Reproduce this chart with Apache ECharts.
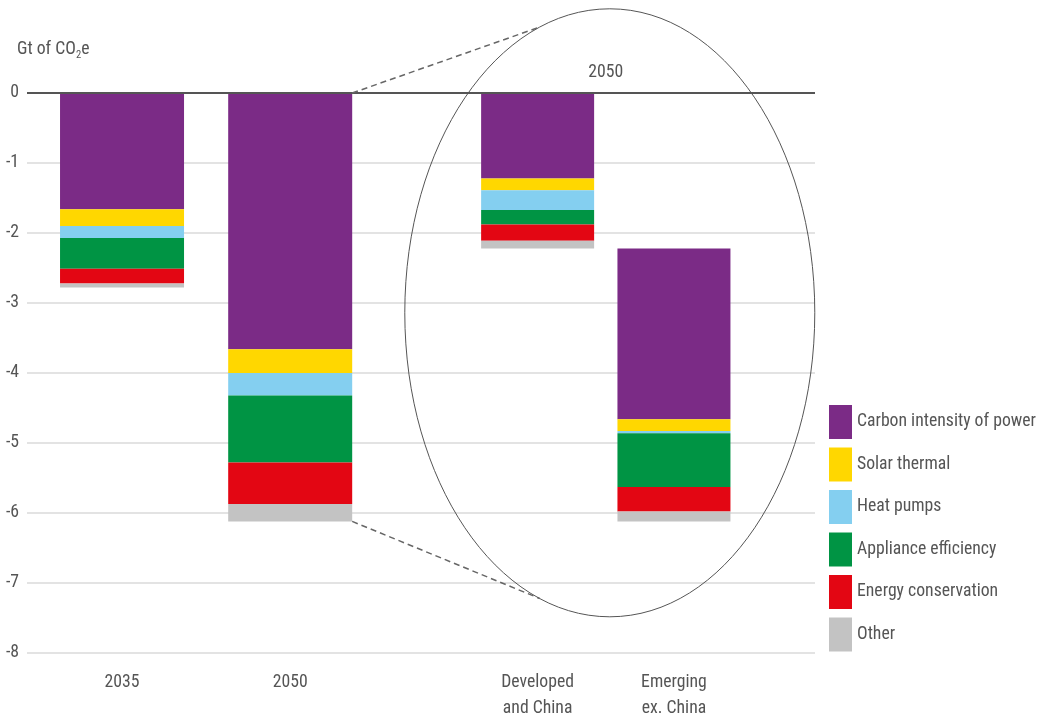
<!DOCTYPE html>
<html>
<head>
<meta charset="utf-8">
<script src="https://cdn.jsdelivr.net/npm/echarts@6/dist/echarts.min.js"></script>
<style>
  html, body { margin: 0; padding: 0; background: #fff; }
  #chart { width: 1040px; height: 717px; }
</style>
</head>
<body>
<div id="chart"></div>
<script>
// Abatement of buildings emissions, Gt of CO2e (negative = reduction)
const categories = ['2035', '2050', 'Developed\nand China', 'Emerging\nex. China'];
const leverNames = ['Carbon intensity of power', 'Solar thermal', 'Heat pumps',
                    'Appliance efficiency', 'Energy conservation', 'Other'];
const leverColors = ['#7b2b86', '#ffd700', '#84cff0', '#009444', '#e30613', '#c3c3c3'];

// 2035 and 2050 totals
const carbonTotal    = [-1.66, -3.66];
const solarTotal     = [-0.24, -0.34];
const heatTotal      = [-0.17, -0.32];
const applianceTotal = [-0.44, -0.96];
const energyTotal    = [-0.21, -0.59];
const otherTotal     = [-0.06, -0.25];

// 2050 split: developed and China / emerging ex. China
const carbonSplit    = [-1.22, -2.44];
const solarSplit     = [-0.17, -0.17];
const heatSplit      = [-0.28, -0.03];
const applianceSplit = [-0.21, -0.77];
const energySplit    = [-0.23, -0.35];
const otherSplit     = [-0.11, -0.14];

const yTicks = [-8, -7, -6, -5, -4, -3, -2, -1, 0];

// horizontal slot of each bar on a 0..100 layout axis
const slotX = [12.06, 33.4, 64.8, 82.1];
const TEXT = '#555';

// pick a narrow face if one is installed, and size it to the legend's line length
function pickFont() {
  const ctx = document.createElement('canvas').getContext('2d');
  const sample = 'Carbon intensity of power';
  const measure = (fam) => { ctx.font = '100px ' + fam; return ctx.measureText(sample).width; };
  const mono = measure('monospace');
  const serif = measure('serif');
  const candidates = ['"Roboto Condensed"', '"Liberation Sans Narrow"', '"Arial Narrow"',
                      '"DejaVu Sans Condensed"', 'Roboto'];
  for (const c of candidates) {
    const w1 = measure(c + ', monospace');
    const w2 = measure(c + ', serif');
    if (Math.abs(w1 - mono) > 0.5 || Math.abs(w2 - serif) > 0.5) {
      return { family: c + ', sans-serif', size: Math.min(18, 179 / (w1 / 100)) };
    }
  }
  return { family: 'sans-serif', size: 16 };
}
const F = pickFont();
const FONT = F.family;
const FS = Math.round(F.size * 10) / 10;

const totals = [carbonTotal, solarTotal, heatTotal, applianceTotal, energyTotal, otherTotal];
const splits = [carbonSplit, solarSplit, heatSplit, applianceSplit, energySplit, otherSplit];

// the emerging bar hangs from the bottom of the developed bar
const developedSum = splits.reduce((s, arr) => s + arr[0], 0);
const splitBase = [0, developedSum];

// value first so that it is the stacked dimension
const barEncode = { x: 1, y: 0 };
const series = [];
totals.forEach((vals, i) => {
  series.push({
    name: leverNames[i], type: 'bar', stack: 'total', xAxisIndex: 0,
    barWidth: 124, itemStyle: { color: leverColors[i] }, encode: barEncode,
    data: vals.map((v, j) => [v, slotX[j]])
  });
});
series.push({
  name: 'base', type: 'bar', stack: 'split', xAxisIndex: 1,
  barWidth: 113, itemStyle: { color: 'transparent' }, silent: true, encode: barEncode,
  data: splitBase.map((v, j) => [v, slotX[j + 2]])
});
splits.forEach((vals, i) => {
  series.push({
    name: leverNames[i], type: 'bar', stack: 'split', xAxisIndex: 1,
    barWidth: 113, itemStyle: { color: leverColors[i] }, encode: barEncode,
    data: vals.map((v, j) => [v, slotX[j + 2]])
  });
});
// zero line
series[0].markLine = {
  silent: true, symbol: 'none', label: { show: false },
  lineStyle: { color: '#555', width: 2, type: 'solid' },
  data: [{ yAxis: 0 }]
};

const chart = echarts.init(document.getElementById('chart'), null, { renderer: 'canvas' });

function labelFor(value) {
  let best = 0;
  slotX.forEach((x, i) => { if (Math.abs(x - value) < Math.abs(slotX[best] - value)) best = i; });
  return categories[best];
}

chart.setOption({
  animation: false,
  textStyle: { fontFamily: FONT },
  title: {
    text: '{a|Gt of CO}{s|2}{a|e}',
    left: 12, top: 34,
    textStyle: {
      fontWeight: 'normal',
      rich: {
        a: { fontFamily: FONT, fontSize: FS, fontWeight: 'normal', color: TEXT, lineHeight: 22 },
        s: { fontFamily: FONT, fontSize: FS * 0.6, fontWeight: 'normal', color: TEXT, lineHeight: 11, verticalAlign: 'bottom' }
      }
    }
  },
  legend: {
    orient: 'vertical', left: 829, top: 405, padding: 0,
    itemWidth: 23, itemHeight: 34, itemGap: 8.5, icon: 'rect',
    data: leverNames,
    textStyle: { fontFamily: FONT, fontSize: FS, color: TEXT, padding: [3, 0, 0, 0] }
  },
  grid: { left: 27, right: 225, top: 93, bottom: 64, containLabel: false, outerBoundsMode: 'none' },
  xAxis: [
    {
      type: 'value', min: 0, max: 100,
      axisLine: { show: false }, axisTick: { show: false }, splitLine: { show: false },
      axisLabel: {
        customValues: slotX, formatter: labelFor,
        fontFamily: FONT, fontSize: FS, color: TEXT, lineHeight: 26, margin: 17
      }
    },
    {
      type: 'value', min: 0, max: 100, show: false,
      splitLine: { show: false }
    }
  ],
  yAxis: {
    type: 'value', min: -8, max: 0, interval: 1,
    axisLine: { show: false }, axisTick: { show: false },
    axisLabel: {
      customValues: yTicks,
      fontFamily: FONT, fontSize: FS, color: TEXT, margin: 8
    },
    splitLine: { lineStyle: { color: '#dadada', width: 1.5 } }
  },
  series: series
});

// zoom-in annotation: ellipse around the 2050 split, joined to the 2050 bar
function drawAnnotation() {
  const toPx = (x, y) => chart.convertToPixel({ xAxisIndex: 0, yAxisIndex: 0 }, [x, y]);
  const total2050 = totals.reduce((s, arr) => s + arr[1], 0);
  const barTop = toPx(slotX[1], 0);
  const barBottom = toPx(slotX[1], total2050);
  const barRight = barTop[0] + 124 / 2;
  const mid = toPx((slotX[2] + slotX[3]) / 2, 0);
  const cx = mid[0] + 4;
  const cy = toPx(0, -3.14)[1];
  const rx = 205, ry = 304;
  const dx = 70;
  const dy = ry * Math.sqrt(1 - (dx / rx) * (dx / rx));
  chart.setOption({
    graphic: [
      { type: 'ellipse', silent: true, z: 10,
        shape: { cx: cx, cy: cy, rx: rx, ry: ry },
        style: { fill: 'none', stroke: '#555', lineWidth: 1 } },
      { type: 'line', silent: true, z: 10,
        shape: { x1: barRight, y1: barTop[1], x2: cx - dx, y2: cy - dy },
        style: { stroke: '#666', lineWidth: 1.5, lineDash: [6, 4] } },
      { type: 'line', silent: true, z: 10,
        shape: { x1: barRight, y1: barBottom[1], x2: cx - dx, y2: cy + dy },
        style: { stroke: '#666', lineWidth: 1.5, lineDash: [6, 4] } },
      { type: 'text', silent: true, z: 10,
        x: mid[0], y: barTop[1] - 20,
        style: { text: '2050', fontFamily: FONT, fontSize: FS, fill: TEXT,
                 align: 'center', verticalAlign: 'middle' } }
    ]
  });
}
drawAnnotation();
</script>
</body>
</html>
